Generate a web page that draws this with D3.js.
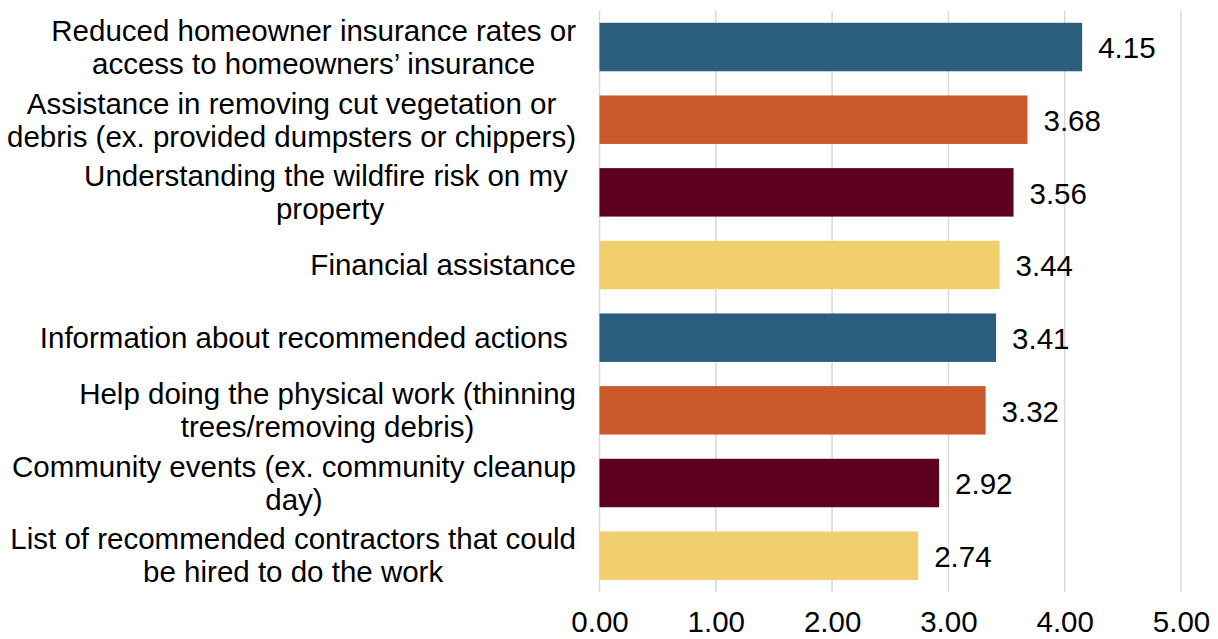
<!DOCTYPE html>
<html>
<head>
<meta charset="utf-8">
<script src="https://cdn.jsdelivr.net/npm/d3@7"></script>
<style>
  html, body { margin: 0; padding: 0; background: #ffffff; }
  svg { display: block; }
  text { font-family: "Liberation Sans", Arial, sans-serif; fill: #000000; white-space: pre; }
</style>
</head>
<body>
<svg id="chart" width="1218" height="639"></svg>
<script>
// Category labels (each entry is the list of wrapped lines)
const categories = [
  ["Reduced homeowner insurance rates or", "access to homeowners\u2019 insurance"],
  ["Assistance in removing cut vegetation or", "debris (ex. provided dumpsters or chippers)"],
  ["Understanding the wildfire risk on my ", "property"],
  ["Financial assistance"],
  ["Information about recommended actions "],
  ["Help doing the physical work (thinning", "trees/removing debris)"],
  ["Community events (ex. community cleanup", "day)"],
  ["List of recommended contractors that could", "be hired to do the work"]
];
const values = [4.15, 3.68, 3.56, 3.44, 3.41, 3.32, 2.92, 2.74];
const barColors = ["#2b5d7c", "#cb5a2a", "#5c001e", "#f2cf6d", "#2b5d7c", "#cb5a2a", "#5c001e", "#f2cf6d"];
const xTicks = [0, 1, 2, 3, 4, 5];

const svg = d3.select("#chart");
const fontSize = 29.5;
const lineHeight = 33;

const plot = { left: 599.5, right: 1181, top: 10.7, bottom: 592 };

const x = d3.scaleLinear().domain([0, 5]).range([plot.left, plot.right]);
const y = d3.scaleBand()
  .domain(d3.range(categories.length))
  .range([plot.top, plot.bottom])
  .paddingInner(0.333)
  .paddingOuter(0.1665);

// Vertical gridlines
svg.append("g").selectAll("line")
  .data(xTicks)
  .join("line")
  .attr("x1", d => x(d)).attr("x2", d => x(d))
  .attr("y1", plot.top).attr("y2", plot.bottom)
  .attr("stroke", "#d9d9d9")
  .attr("stroke-width", 1.5);

// Bars
svg.append("g").selectAll("rect")
  .data(values)
  .join("rect")
  .attr("x", x(0))
  .attr("y", (d, i) => y(i))
  .attr("width", d => x(d) - x(0))
  .attr("height", y.bandwidth())
  .attr("fill", (d, i) => barColors[i]);

// Value labels
svg.append("g").selectAll("text")
  .data(values)
  .join("text")
  .attr("x", d => x(d) + 16)
  .attr("y", (d, i) => y(i) + y.bandwidth() / 2)
  .attr("dy", "0.38em")
  .style("font-size", fontSize + "px")
  .text(d => d.toFixed(2));

// X axis tick labels
const xAxis = d3.axisBottom(x)
  .tickValues(xTicks)
  .tickFormat(d3.format(".2f"))
  .tickSize(0)
  .tickPadding(0);
const axisG = svg.append("g")
  .attr("transform", `translate(0, ${plot.bottom})`)
  .call(xAxis);
axisG.select(".domain").remove();
axisG.selectAll("text")
  .attr("y", 40)
  .attr("dy", 0)
  .style("font-size", fontSize + "px")
  .style("font-family", "'Liberation Sans', Arial, sans-serif")
  .attr("fill", "#000000");

// Category labels: lines centred on each other, block right-aligned to the axis
const labelRight = 576;
const labelG = svg.append("g");
categories.forEach((lines, i) => {
  const cy = y(i) + y.bandwidth() / 2;
  const g = labelG.append("g");
  const texts = lines.map((ln, k) =>
    g.append("text")
      .style("font-size", fontSize + "px")
      .attr("text-anchor", "middle")
      .attr("y", cy + (k - (lines.length - 1) / 2) * lineHeight)
      .attr("dy", "0.35em")
      .text(ln)
  );
  const w = d3.max(texts, t => t.node().getComputedTextLength());
  texts.forEach(t => t.attr("x", labelRight - w / 2));
});
</script>
</body>
</html>
